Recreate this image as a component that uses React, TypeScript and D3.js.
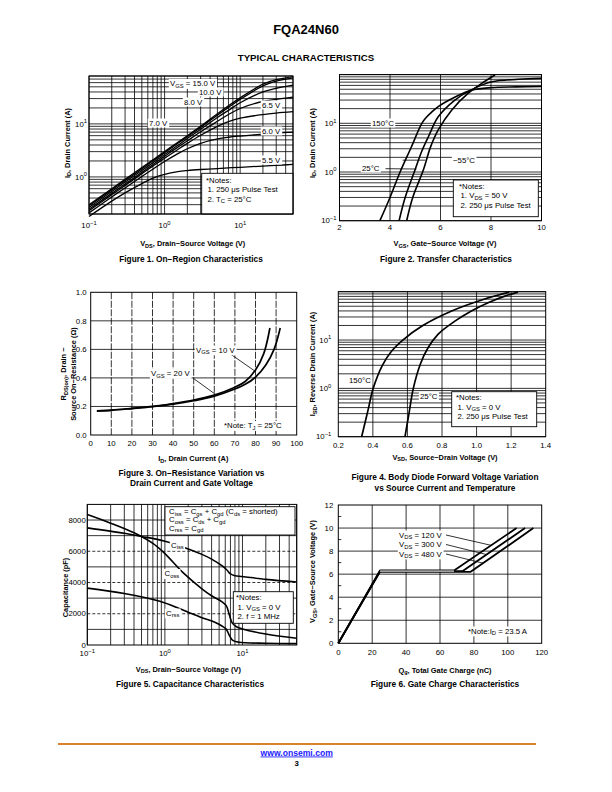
import React, { useLayoutEffect, useRef } from "react";
import * as d3 from "d3";

const FONT = "'Liberation Sans', Arial, Helvetica, sans-serif";

// ---------------- Figure 1: On-Region Characteristics ----------------
const fig1Vds = [0.1, 0.2, 0.3, 0.5, 0.7, 1, 1.5, 2, 3, 5, 7, 10, 20, 30, 50];
const fig1Id15 = [0.3, 0.6, 0.9, 1.5, 2.1, 3.0, 4.5, 6.0, 9.0, 15.5, 22, 31, 56, 68, 78];
const fig1Id10 = [0.285, 0.57, 0.855, 1.42, 2.0, 2.85, 4.3, 5.7, 8.6, 14.6, 20.5, 29, 52, 64, 74];
const fig1Id8 = [0.265, 0.53, 0.8, 1.32, 1.85, 2.65, 3.95, 5.3, 7.9, 13.2, 18, 25, 40, 47, 54];
const fig1Id7 = [0.245, 0.49, 0.735, 1.22, 1.71, 2.44, 3.65, 4.8, 7.1, 11.2, 15, 19.5, 26.5, 29, 32];
const fig1Id65 = [0.23, 0.46, 0.69, 1.15, 1.6, 2.25, 3.3, 4.3, 6.1, 9.0, 11, 12.8, 15, 16, 17];
const fig1Id6 = [0.21, 0.42, 0.62, 1.02, 1.4, 1.95, 2.75, 3.4, 4.3, 5.2, 5.6, 5.9, 6.4, 6.7, 7.0];
const fig1Id55 = [0.18, 0.35, 0.5, 0.75, 0.95, 1.12, 1.26, 1.32, 1.38, 1.44, 1.48, 1.52, 1.6, 1.65, 1.72];
const fig1Labels = ["V_{GS} = 15.0 V", "10.0 V", "8.0 V", "7.0 V", "6.5 V", "6.0 V", "5.5 V"];
const fig1XTicks = [0.1, 1, 10];
const fig1XTickLabels = ["10^{−1}", "10^{0}", "10^{1}"];
const fig1YTicks = [1, 10];
const fig1YTickLabels = ["10^{0}", "10^{1}"];

// ---------------- Figure 2: Transfer Characteristics ----------------
const fig2Vgs150 = [3.6, 4.0, 4.4, 4.85, 5.26, 5.45, 5.65, 5.91, 6.6, 7.23, 8.0, 9.0, 10];
const fig2Id150 = [0.1, 0.3, 1.0, 3.3, 10, 13.5, 17, 22, 35, 48, 54, 56, 57];
const fig2Vgs25 = [4.36, 4.6, 4.99, 5.25, 5.52, 5.91, 6.57, 7.2, 8.03, 9.1, 10];
const fig2Id25 = [0.1, 0.3, 1.1, 2.6, 5.3, 13.6, 30, 48, 71, 80, 84];
const fig2VgsM55 = [4.66, 4.9, 5.32, 5.6, 5.91, 6.44, 7.1, 7.63, 8.16];
const fig2IdM55 = [0.1, 0.3, 1.1, 3.2, 7.3, 18.6, 41.5, 66, 98];
const fig2XTicks = [2, 4, 6, 8, 10];
const fig2XGrid = [4, 6, 8];
const fig2YTicks = [0.1, 1, 10];
const fig2YTickLabels = ["10^{−1}", "10^{0}", "10^{1}"];

// ---------------- Figure 3: On-Resistance ----------------
const fig3Id10 = [3, 10, 20, 30, 40, 50, 60, 70, 75, 80, 84, 87];
const fig3R10 = [0.17, 0.175, 0.187, 0.2, 0.22, 0.245, 0.28, 0.335, 0.375, 0.455, 0.57, 0.75];
const fig3Id20 = [3, 10, 20, 30, 40, 50, 60, 70, 75, 80, 85, 89, 92];
const fig3R20 = [0.168, 0.173, 0.185, 0.198, 0.216, 0.24, 0.272, 0.322, 0.355, 0.405, 0.49, 0.6, 0.75];
const fig3XTicks = [0, 10, 20, 30, 40, 50, 60, 70, 80, 90, 100];
const fig3YTicks = [0, 0.2, 0.4, 0.6, 0.8, 1.0];

// ---------------- Figure 4: Body Diode ----------------
const fig4V150 = [0.335, 0.37, 0.402, 0.455, 0.51, 0.573, 0.689, 0.856, 1.043, 1.19];
const fig4I150 = [0.1, 0.33, 1, 3, 6, 10, 20, 40, 70, 98];
const fig4V25 = [0.586, 0.61, 0.634, 0.675, 0.72, 0.778, 0.87, 0.97, 1.07, 1.164, 1.24];
const fig4I25 = [0.1, 0.32, 1, 3.2, 7, 13.3, 24, 40, 60, 81, 98];
const fig4XTicks = [0.2, 0.4, 0.6, 0.8, 1.0, 1.2, 1.4];
const fig4XGrid = [0.4, 0.6, 0.8, 1.0, 1.2];
const fig4YTicks = [0.1, 1, 10];
const fig4YTickLabels = ["10^{−1}", "10^{0}", "10^{1}"];

// ---------------- Figure 5: Capacitance ----------------
const fig5VCiss = [0.1, 0.3, 0.5, 1, 2, 3, 4, 5.6, 6.3, 7, 8, 10, 20, 50];
const fig5Ciss = [7500, 7150, 6950, 6640, 6150, 5800, 5500, 5030, 4800, 4550, 4430, 4380, 4200, 4030];
const fig5VCoss = [0.1, 0.2, 0.4, 0.7, 1, 1.7, 3, 4, 5.4, 6.2, 6.8, 7.4, 8.5, 10, 20, 50];
const fig5Coss = [8350, 7800, 7180, 6500, 5850, 4650, 3600, 3150, 2780, 2500, 1900, 1400, 1150, 1030, 700, 430];
const fig5VCrss = [0.1, 0.3, 0.86, 1.5, 2, 3, 4.4, 5.5, 6.2, 6.8, 7.5, 9, 20, 50];
const fig5Crss = [3640, 3300, 2800, 2350, 2100, 1750, 1450, 1200, 1000, 600, 300, 180, 110, 90];
const fig5XTicks = [0.1, 1, 10];
const fig5XTickLabels = ["10^{−1}", "10^{0}", "10^{1}"];
const fig5YTicks = [0, 2000, 4000, 6000, 8000];
const fig5YGrid = [1000, 2000, 3000, 4000, 5000, 6000, 7000, 8000];
const fig5YDashed = [2000, 4000, 6000];

// ---------------- Figure 6: Gate Charge ----------------
const fig6Q120 = [0, 24.6, 68.3, 105.2];
const fig6V120 = [0, 6.32, 6.32, 10];
const fig6Q300 = [0, 24.6, 73.2, 110.2];
const fig6V300 = [0, 6.26, 6.26, 10];
const fig6Q480 = [0, 24.6, 78.1, 115.1];
const fig6V480 = [0, 6.2, 6.2, 10];
const fig6Labels = ["V_{DS} = 120 V", "V_{DS} = 300 V", "V_{DS} = 480 V"];
const fig6LeaderV = [8.5, 7.7, 6.95];
const fig6XTicks = [0, 20, 40, 60, 80, 100, 120];
const fig6YTicks = [0, 2, 4, 6, 8, 10, 12];
const fig6YMinor = [1, 3, 5, 7, 9, 11];

// ---------------- helpers ----------------
function rich(s: string, fs: number) {
  const parts = s.split(/(_\{[^}]*\}|\^\{[^}]*\})/).filter((p) => p !== "");
  let off = 0;
  const out: any[] = [];
  parts.forEach((p, i) => {
    let target = 0;
    let content = p;
    let size = fs;
    if (p.startsWith("_{")) {
      target = fs * 0.24;
      content = p.slice(2, -1);
      size = fs * 0.75;
    } else if (p.startsWith("^{")) {
      target = -fs * 0.42;
      content = p.slice(2, -1);
      size = fs * 0.75;
    }
    const dy = target - off;
    off = target;
    out.push(
      <tspan key={i} dy={dy} fontSize={size}>
        {content}
      </tspan>
    );
  });
  return out;
}

function T(props: {
  x: number;
  y: number;
  s: string;
  fs?: number;
  anchor?: string;
  weight?: string;
  rotate?: number;
  fill?: string;
}) {
  const { x, y, s, fs = 7, anchor = "start", weight = "normal", rotate, fill = "black" } = props;
  return (
    <text
      x={x}
      y={y}
      fontSize={fs}
      fontFamily={FONT}
      fontWeight={weight}
      textAnchor={anchor as any}
      fill={fill}
      transform={rotate ? `rotate(${rotate} ${x} ${y})` : undefined}
    >
      {rich(s, fs)}
    </text>
  );
}

function BgT(props: { x: number; y: number; s: string; fs?: number; anchor?: string; pad?: number }) {
  const { x, y, s, fs = 7, anchor = "start", pad = 1.2 } = props;
  const tRef = useRef<SVGTextElement>(null);
  const rRef = useRef<SVGRectElement>(null);
  useLayoutEffect(() => {
    if (!tRef.current || !rRef.current) return;
    const b = tRef.current.getBBox();
    const r = rRef.current;
    r.setAttribute("x", String(b.x - pad));
    r.setAttribute("y", String(b.y));
    r.setAttribute("width", String(b.width + 2 * pad));
    r.setAttribute("height", String(b.height));
  });
  return (
    <g>
      <rect ref={rRef} fill="white" />
      <text ref={tRef} x={x} y={y} fontSize={fs} fontFamily={FONT} textAnchor={anchor as any}>
        {rich(s, fs)}
      </text>
    </g>
  );
}

const GS = 0.8; // grid stroke

function VLines({ xs, sx, y0, y1, dash, w = GS }: any) {
  return (
    <g>
      {xs.map((v: number, i: number) => (
        <line key={i} x1={sx(v)} x2={sx(v)} y1={y0} y2={y1} stroke="black" strokeWidth={w} strokeDasharray={dash} />
      ))}
    </g>
  );
}
function HLines({ ys, sy, x0, x1, dash, w = GS }: any) {
  return (
    <g>
      {ys.map((v: number, i: number) => (
        <line key={i} y1={sy(v)} y2={sy(v)} x1={x0} x2={x1} stroke="black" strokeWidth={w} strokeDasharray={dash} />
      ))}
    </g>
  );
}

const SMOOTH = d3.curveCatmullRom.alpha(0.5);

function path(xs: number[], ys: number[], sx: any, sy: any, curve: any = SMOOTH) {
  const pts: [number, number][] = xs.map((x, i) => [sx(x), sy(ys[i])]);
  return d3.line().curve(curve)(pts) || "";
}

function Curve({ d, w = 1.6, color = "black" }: any) {
  return <path d={d} fill="none" stroke={color} strokeWidth={w} strokeLinejoin="round" />;
}

function Frame({ x0, x1, y0, y1 }: any) {
  return <rect x={x0} y={y0} width={x1 - x0} height={y1 - y0} fill="none" stroke="black" strokeWidth={1} />;
}

function Box({ x0, x1, y0, y1 }: any) {
  return <rect x={x0} y={y0} width={x1 - x0} height={y1 - y0} fill="white" stroke="black" strokeWidth={0.9} />;
}

const TICK_FS = 7.8;
const TITLE_FS = 7.4;
const CAP_FS = 8.3;
const NOTE_FS = 7.8;

// ---------------- Figures ----------------
function Fig1() {
  const x = d3.scaleLog().domain([0.1, 50]).range([89, 293]);
  const y = d3.scaleLog().domain([0.2, 80]).range([214, 76]);
  const [L, R] = x.range();
  const [B, Tp] = y.range();
  const series = [fig1Id15, fig1Id10, fig1Id8, fig1Id7, fig1Id65, fig1Id6, fig1Id55];
  const labelPos = [
    [170, 86],
    [199, 94.5],
    [184, 104.5],
    [149, 125.5],
    [262, 107.5],
    [262, 133.5],
    [262, 162.5],
  ];
  return (
    <g>
      <VLines xs={x.ticks()} sx={x} y0={Tp} y1={B} />
      <HLines ys={y.ticks()} sy={y} x0={L} x1={R} />
      {series.map((s, i) => (
        <Curve key={i} d={path(fig1Vds, s, x, y)} w={1.3} />
      ))}
      {fig1Labels.map((l, i) => (
        <BgT key={i} x={labelPos[i][0]} y={labelPos[i][1]} s={l} fs={NOTE_FS} />
      ))}
      <Box x0={201.7} x1={R} y0={173.3} y1={B} />
      <T x={206} y={182.5} s="*Notes:" fs={NOTE_FS} />
      <T x={207.5} y={192} s="1. 250 μs Pulse Test" fs={NOTE_FS} />
      <T x={207.5} y={201.5} s="2. T_{C} = 25°C" fs={NOTE_FS} />
      <Frame x0={L} x1={R} y0={Tp} y1={B} />
      {fig1XTicks.map((t, i) => (
        <T key={i} x={x(t)} y={228} s={fig1XTickLabels[i]} fs={TICK_FS} anchor="middle" />
      ))}
      {fig1YTicks.map((t, i) => (
        <T key={i} x={L - 2} y={y(t) + 2.7} s={fig1YTickLabels[i]} fs={TICK_FS} anchor="end" />
      ))}
      <T x={69.5} y={143} s="I_{D}, Drain Current (A)" fs={TITLE_FS} weight="bold" anchor="middle" rotate={-90} />
      <T x={192.7} y={246} s="V_{DS}, Drain−Source Voltage (V)" fs={TITLE_FS} weight="bold" anchor="middle" />
      <T x={191} y={262.3} s="Figure 1. On−Region Characteristics" fs={CAP_FS} weight="bold" anchor="middle" />
    </g>
  );
}

function Fig2() {
  const x = d3.scaleLinear().domain([2, 10]).range([339.5, 541.5]);
  const y = d3.scaleLog().domain([0.1, 100]).range([220.7, 74.6]);
  const [L, R] = x.range();
  const [B, Tp] = y.range();
  return (
    <g>
      <VLines xs={fig2XGrid} sx={x} y0={Tp} y1={B} />
      <HLines ys={y.ticks()} sy={y} x0={L} x1={R} />
      <Curve d={path(fig2Vgs150, fig2Id150, x, y)} />
      <Curve d={path(fig2Vgs25, fig2Id25, x, y)} />
      <Curve d={path(fig2VgsM55, fig2IdM55, x, y)} />
      <line x1={x(3.82)} x2={x(5.05)} y1={y(1.17)} y2={y(1.15)} stroke="black" strokeWidth={0.8} />
      <line x1={x(4.5)} x2={x(5.4)} y1={y(1.75)} y2={y(1.75)} stroke="black" strokeWidth={0.8} />
      <BgT x={372} y={125.5} s="150°C" fs={NOTE_FS} />
      <BgT x={362} y={170.5} s="25°C" fs={NOTE_FS} />
      <BgT x={453} y={163} s="−55°C" fs={NOTE_FS} />
      <Box x0={453.3} x1={538.3} y0={180} y1={216.7} />
      <T x={459} y={188.5} s="*Notes:" fs={NOTE_FS} />
      <T x={460.5} y={198} s="1. V_{DS} = 50 V" fs={NOTE_FS} />
      <T x={460.5} y={207.8} s="2. 250 μs Pulse Test" fs={NOTE_FS} />
      <Frame x0={L} x1={R} y0={Tp} y1={B} />
      {fig2XTicks.map((t, i) => (
        <T key={i} x={x(t)} y={229.5} s={String(t)} fs={TICK_FS} anchor="middle" />
      ))}
      {fig2YTicks.map((t, i) => (
        <T key={i} x={L - 3} y={y(t) + 2.7} s={fig2YTickLabels[i]} fs={TICK_FS} anchor="end" />
      ))}
      <T x={314.5} y={143} s="I_{D}, Drain Current (A)" fs={TITLE_FS} weight="bold" anchor="middle" rotate={-90} />
      <T x={445} y={246} s="V_{GS}, Gate−Source Voltage (V)" fs={TITLE_FS} weight="bold" anchor="middle" />
      <T x={446} y={262.3} s="Figure 2. Transfer Characteristics" fs={CAP_FS} weight="bold" anchor="middle" />
    </g>
  );
}

function Fig3() {
  const x = d3.scaleLinear().domain([0, 100]).range([90.7, 296.7]);
  const y = d3.scaleLinear().domain([0, 1]).range([435, 292.3]);
  const [L, R] = x.range();
  const [B, Tp] = y.range();
  return (
    <g>
      <VLines xs={fig3XTicks.slice(1, -1)} sx={x} y0={Tp} y1={B} dash="7,1.5" />
      <HLines ys={fig3YTicks.slice(1, -1)} sy={y} x0={L} x1={R} />
      <Curve d={path(fig3Id10, fig3R10, x, y)} w={1.7} />
      <Curve d={path(fig3Id20, fig3R20, x, y)} w={1.7} />
      <line x1={229} y1={353} x2={x(79.5)} y2={y(0.45)} stroke="black" strokeWidth={0.8} />
      <line x1={193.3} y1={378.3} x2={x(61)} y2={y(0.28)} stroke="black" strokeWidth={0.8} />
      <BgT x={196} y={352.5} s="V_{GS} = 10 V" fs={NOTE_FS} />
      <BgT x={151} y={376} s="V_{GS} = 20 V" fs={NOTE_FS} />
      <BgT x={224} y={428} s="*Note: T_{J} = 25°C" fs={NOTE_FS} />
      <Frame x0={L} x1={R} y0={Tp} y1={B} />
      {fig3XTicks.map((t, i) => (
        <T key={i} x={x(t)} y={446} s={String(t)} fs={TICK_FS} anchor="middle" />
      ))}
      {fig3YTicks.map((t, i) => (
        <T key={i} x={L - 4} y={y(t) + 2.7} s={t.toFixed(1)} fs={TICK_FS} anchor="end" />
      ))}
      <T x={66} y={374} s="R_{DS(on)}, Drain −" fs={TITLE_FS} weight="bold" anchor="middle" rotate={-90} />
      <T x={75.5} y={374} s="Source On−Resistance (Ω)" fs={TITLE_FS} weight="bold" anchor="middle" rotate={-90} />
      <T x={193.3} y={461} s="I_{D}, Drain Current (A)" fs={TITLE_FS} weight="bold" anchor="middle" />
      <T x={191.5} y={475.5} s="Figure 3. On−Resistance Variation vs" fs={CAP_FS} weight="bold" anchor="middle" />
      <T x={191.5} y={486} s="Drain Current and Gate Voltage" fs={CAP_FS} weight="bold" anchor="middle" />
    </g>
  );
}

function Fig4() {
  const x = d3.scaleLinear().domain([0.2, 1.4]).range([338.3, 545.7]);
  const y = d3.scaleLog().domain([0.1, 100]).range([436.7, 291.7]);
  const [L, R] = x.range();
  const [B, Tp] = y.range();
  return (
    <g>
      <VLines xs={fig4XGrid} sx={x} y0={Tp} y1={B} />
      <HLines ys={y.ticks()} sy={y} x0={L} x1={R} />
      <Curve d={path(fig4V150, fig4I150, x, y)} w={1.7} />
      <Curve d={path(fig4V25, fig4I25, x, y)} w={1.7} />
      <BgT x={349} y={382.5} s="150°C" fs={NOTE_FS} />
      <BgT x={420} y={399} s="25°C" fs={NOTE_FS} />
      <Box x0={451.7} x1={536.7} y0={391.7} y1={426.7} />
      <T x={456} y={400} s="*Notes:" fs={NOTE_FS} />
      <T x={457.5} y={409.6} s="1. V_{GS} = 0 V" fs={NOTE_FS} />
      <T x={457.5} y={419.4} s="2. 250 μs Pulse Test" fs={NOTE_FS} />
      <Frame x0={L} x1={R} y0={Tp} y1={B} />
      {fig4XTicks.map((t, i) => (
        <T key={i} x={x(t)} y={447.5} s={t.toFixed(1)} fs={TICK_FS} anchor="middle" />
      ))}
      {fig4YTicks.map((t, i) => (
        <T key={i} x={L - 7} y={y(t) + 2.7} s={fig4YTickLabels[i]} fs={TICK_FS} anchor="end" />
      ))}
      <T x={315} y={364} s="I_{SD}, Reverse Drain Current (A)" fs={TITLE_FS} weight="bold" anchor="middle" rotate={-90} />
      <T x={445} y={459.5} s="V_{SD}, Source−Drain Voltage (V)" fs={TITLE_FS} weight="bold" anchor="middle" />
      <T x={445} y={480} s="Figure 4. Body Diode Forward Voltage Variation" fs={CAP_FS} weight="bold" anchor="middle" />
      <T x={445} y={490.5} s="vs Source Current and Temperature" fs={CAP_FS} weight="bold" anchor="middle" />
    </g>
  );
}

function Fig5() {
  const x = d3.scaleLog().domain([0.1, 50]).range([87.3, 296.7]);
  const y = d3.scaleLinear().domain([0, 9000]).range([645, 504.4]);
  const [L, R] = x.range();
  const [B, Tp] = y.range();
  const solid = fig5YGrid.filter((v) => !fig5YDashed.includes(v));
  return (
    <g>
      <VLines xs={x.ticks()} sx={x} y0={Tp} y1={B} />
      <HLines ys={solid} sy={y} x0={L} x1={R} />
      <HLines ys={fig5YDashed} sy={y} x0={L} x1={R} dash="3,2" />
      <Curve d={path(fig5VCiss, fig5Ciss, x, y)} />
      <Curve d={path(fig5VCoss, fig5Coss, x, y)} />
      <Curve d={path(fig5VCrss, fig5Crss, x, y)} />
      <BgT x={171} y={547.5} s="C_{iss}" fs={NOTE_FS} />
      <BgT x={164.5} y={576} s="C_{oss}" fs={NOTE_FS} />
      <BgT x={166} y={615.5} s="C_{rss}" fs={NOTE_FS} />
      <Box x0={165} x1={295} y0={506.7} y1={535} />
      <T x={169} y={514} s="C_{iss} = C_{gs} + C_{gd} (C_{ds} = shorted)" fs={NOTE_FS} />
      <T x={169} y={522.3} s="C_{oss} = C_{ds} + C_{gd}" fs={NOTE_FS} />
      <T x={169} y={530.6} s="C_{rss} = C_{gd}" fs={NOTE_FS} />
      <Box x0={233.3} x1={293.3} y0={591.7} y1={623.3} />
      <T x={236} y={600} s="*Notes:" fs={NOTE_FS} />
      <T x={237.5} y={609.5} s="1. V_{GS} = 0 V" fs={NOTE_FS} />
      <T x={237.5} y={619} s="2. f = 1 MHz" fs={NOTE_FS} />
      <Frame x0={L} x1={R} y0={Tp} y1={B} />
      {fig5XTicks.map((t, i) => (
        <T key={i} x={x(t)} y={656} s={fig5XTickLabels[i]} fs={TICK_FS} anchor="middle" />
      ))}
      {fig5YTicks.map((t, i) => (
        <T key={i} x={L - 1.5} y={y(t) + 2.7} s={String(t)} fs={TICK_FS} anchor="end" />
      ))}
      <T x={67.5} y={587.5} s="Capacitance (pF)" fs={TITLE_FS} weight="bold" anchor="middle" rotate={-90} />
      <T x={188.3} y={671.5} s="V_{DS}, Drain−Source Voltage (V)" fs={TITLE_FS} weight="bold" anchor="middle" />
      <T x={190} y={687} s="Figure 5. Capacitance Characteristics" fs={CAP_FS} weight="bold" anchor="middle" />
    </g>
  );
}

function Fig6() {
  const x = d3.scaleLinear().domain([0, 120]).range([338.3, 541.7]);
  const y = d3.scaleLinear().domain([0, 12]).range([643.3, 505]);
  const [L, R] = x.range();
  const [B, Tp] = y.range();
  const qs = [fig6Q120, fig6Q300, fig6Q480];
  const vs = [fig6V120, fig6V300, fig6V480];
  const leaderQ = fig6LeaderV.map((v, i) => {
    const q = qs[i];
    const vv = vs[i];
    return q[2] + ((v - vv[2]) * (q[3] - q[2])) / (vv[3] - vv[2]);
  });
  const labelY = [537.5, 547, 556.5];
  return (
    <g>
      <VLines xs={fig6XTicks.slice(1, -1)} sx={x} y0={Tp} y1={B} />
      <HLines ys={fig6YTicks.slice(1, -1)} sy={y} x0={L} x1={R} />
      {fig6YMinor.map((v, i) => (
        <line key={i} x1={L} x2={L + 3} y1={y(v)} y2={y(v)} stroke="black" strokeWidth={0.8} />
      ))}
      {qs.map((q, i) => (
        <Curve key={i} d={path(q, vs[i], x, y, d3.curveLinear)} w={1.8} />
      ))}
      <line x1={x(24.6)} x2={x(68.3)} y1={y(6.26)} y2={y(6.26)} stroke="#a0a0a0" strokeWidth={1.6} />
      {fig6Labels.map((l, i) => (
        <line
          key={"l" + i}
          x1={446}
          y1={labelY[i] - 2.5}
          x2={x(leaderQ[i])}
          y2={y(fig6LeaderV[i])}
          stroke="black"
          strokeWidth={0.8}
        />
      ))}
      {fig6Labels.map((l, i) => (
        <BgT key={i} x={399} y={labelY[i]} s={l} fs={NOTE_FS} />
      ))}
      <BgT x={468} y={633.5} s="*Note:I_{D} = 23.5 A" fs={NOTE_FS} />
      <Frame x0={L} x1={R} y0={Tp} y1={B} />
      {fig6XTicks.map((t, i) => (
        <T key={i} x={x(t)} y={654.5} s={String(t)} fs={TICK_FS} anchor="middle" />
      ))}
      {fig6YTicks.map((t, i) => (
        <T key={i} x={L - 5} y={y(t) + 2.7} s={String(t)} fs={TICK_FS} anchor="end" />
      ))}
      <T x={315} y={571.5} s="V_{GS}, Gate−Source Voltage (V)" fs={TITLE_FS} weight="bold" anchor="middle" rotate={-90} />
      <T x={445} y={672.5} s="Q_{g}, Total Gate Charge (nC)" fs={TITLE_FS} weight="bold" anchor="middle" />
      <T x={445} y={687} s="Figure 6. Gate Charge Characteristics" fs={CAP_FS} weight="bold" anchor="middle" />
    </g>
  );
}

export default function App() {
  return (
    <svg
      width={612}
      height={792}
      viewBox="0 0 612 792"
      style={{ position: "absolute", left: 0, top: 0, background: "white" }}
      fontFamily={FONT}
    >
      <rect x={0} y={0} width={612} height={792} fill="white" />
      <T x={306} y={34} s="FQA24N60" fs={13} weight="bold" anchor="middle" />
      <T x={306} y={61} s="TYPICAL CHARACTERISTICS" fs={9.7} weight="bold" anchor="middle" />
      <Fig1 />
      <Fig2 />
      <Fig3 />
      <Fig4 />
      <Fig5 />
      <Fig6 />
      <line x1={58} x2={536} y1={744} y2={744} stroke="#d9822b" strokeWidth={2} />
      <text
        x={296.7}
        y={755.5}
        fontSize={8.6}
        fontWeight="bold"
        fontFamily={FONT}
        textAnchor="middle"
        fill="#1a1aff"
        style={{ textDecoration: "underline" }}
      >
        www.onsemi.com
      </text>
      <T x={296.7} y={765.5} s="3" fs={7.8} weight="bold" anchor="middle" />
    </svg>
  );
}
